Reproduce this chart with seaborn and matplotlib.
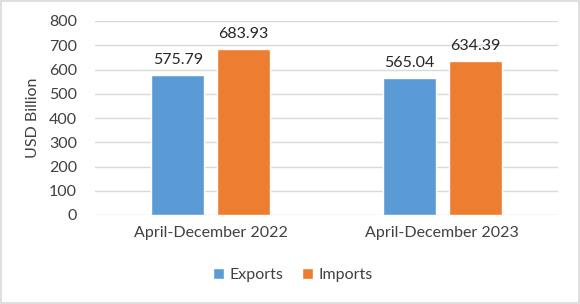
import matplotlib
matplotlib.use("Agg")
import matplotlib.pyplot as plt
import seaborn as sns
import pandas as pd

categories = ["April-December 2022", "April-December 2023"]
series_names = ["Exports", "Imports"]
exports = [575.79, 565.04]
imports = [683.93, 634.39]
yticks = [0, 100, 200, 300, 400, 500, 600, 700, 800]

df = pd.DataFrame({
    "Period": categories * 2,
    "Series": [series_names[0]] * 2 + [series_names[1]] * 2,
    "Value": exports + imports,
})

sns.set_theme(style="white")
plt.rcParams["font.family"] = ["Lato", "DejaVu Sans"]

fig = plt.figure(figsize=(5.8, 3.04), dpi=100)
ax = fig.add_axes([95/580, 1-215/304, 463/580, 194/304])

palette = {"Exports": "#5B9BD5", "Imports": "#ED7D31"}
sns.barplot(data=df, x="Period", y="Value", hue="Series", palette=palette,
            width=0.57, gap=0.2, ax=ax, saturation=1, legend=True)

for cont in ax.containers:
    ax.bar_label(cont, labels=[f"{v:.2f}" for v in cont.datavalues],
                 padding=6, fontsize=11.5, color="#262626")

ax.set_ylim(0, 800)
ax.set_yticks(yticks)
ax.set_yticklabels([str(t) for t in yticks], fontsize=11.5, color="#404040")
ax.tick_params(axis="x", labelsize=11.5, colors="#404040", length=0, pad=8)
ax.tick_params(axis="y", length=0, pad=13)
ax.set_xlabel("")
ax.set_ylabel("USD Billion", fontsize=11.5, color="#404040", labelpad=6)
ax.yaxis.grid(True, color="#D9D9D9", linewidth=1)
ax.set_axisbelow(True)
for s in ax.spines.values():
    s.set_visible(False)

leg = ax.get_legend()
leg.remove()
handles, labels = ax.get_legend_handles_labels()
fig.legend(handles, labels, loc="center", bbox_to_anchor=(0.505, 1-275/304),
           ncol=2, frameon=False, fontsize=11.5, handlelength=0.7, handleheight=0.7,
           handletextpad=0.3, columnspacing=1.2, labelcolor="#404040")

border = plt.Rectangle((0.002, 0.003), 0.996, 0.994, transform=fig.transFigure,
                       fill=False, edgecolor="#D9D9D9", linewidth=1.2)
fig.patches.append(border)

fig.savefig("out.png", dpi=100)
